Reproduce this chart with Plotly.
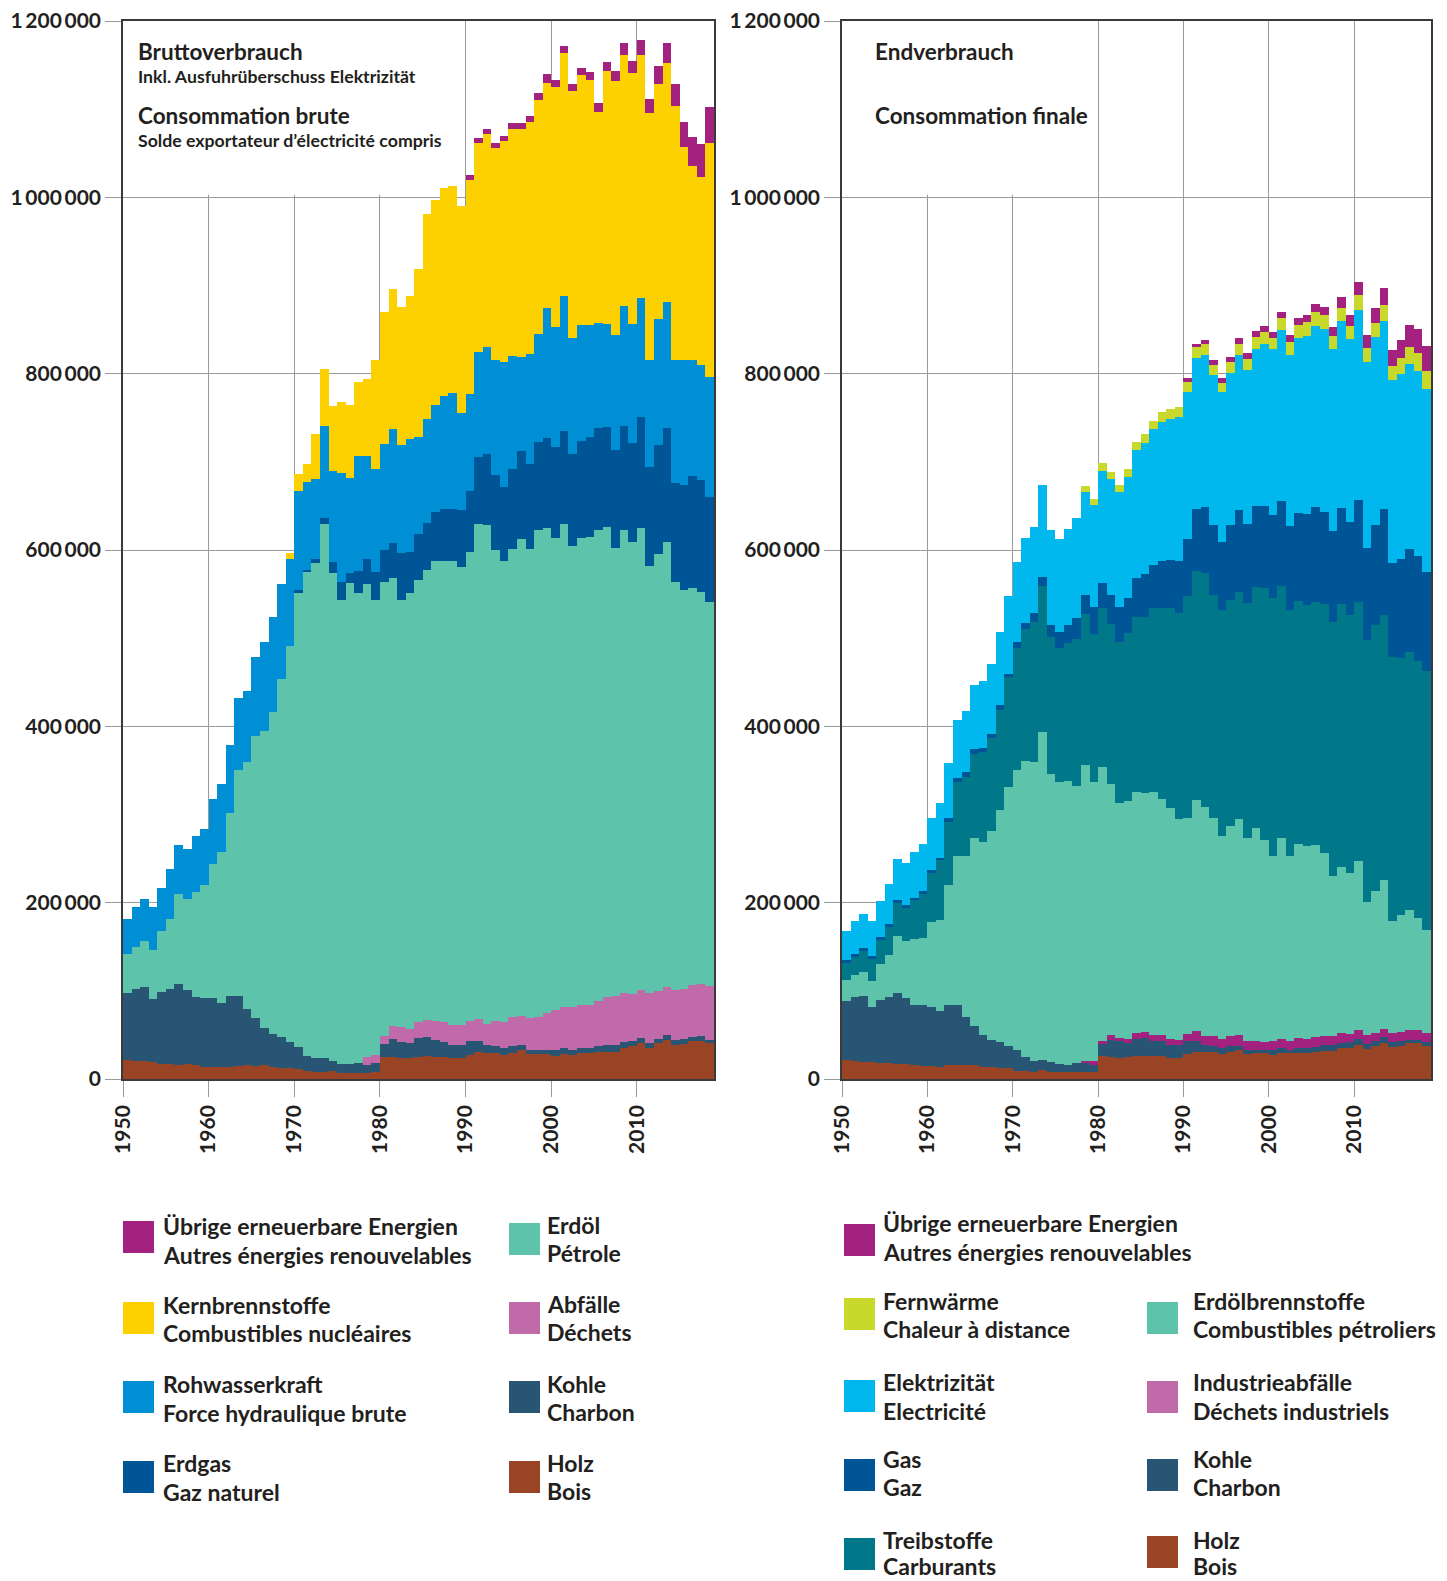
import plotly.graph_objects as go

# ---------------- data (TJ) ----------------
years = list(range(1950, 2019))
decade_ticks = [1950, 1960, 1970, 1980, 1990, 2000, 2010]
decade_labels = ["1950", "1960", "1970", "1980", "1990", "2000", "2010"]
y_ticks = [0, 200000, 400000, 600000, 800000, 1000000, 1200000]
y_labels = ["0", "200\u2009000", "400\u2009000", "600\u2009000", "800\u2009000", "1\u2009000\u2009000", "1\u2009200\u2009000"]

# Bruttoverbrauch / Consommation brute
holz_b = [21500,20800,20400,19300,17400,17400,16300,17400,15500,14000,
          14000,14000,14000,15000,15900,15000,16300,14000,12900,12900,
          11700,9500,8300,7900,9500,6800,6800,6800,6800,7900,
          25000,25000,23800,23800,25000,26000,25000,25000,23800,23800,
          27200,30600,29500,29500,27200,29500,32900,28400,28400,28400,
          26500,28400,27200,29500,29500,30600,30600,30600,35000,37400,
          40800,35500,40400,44200,38600,40000,43000,43000,41200]
kohle_b = [76000,80900,83900,71400,81300,84300,91400,83600,77500,78200,
           77900,72200,80000,79000,63900,54200,41900,37000,34400,29100,
           24600,16500,15500,15900,10900,10200,10200,11300,9100,10200,
           14700,20400,18200,17000,21900,21600,18800,17000,14800,14800,
           15800,12400,9100,7900,8000,7900,5700,4500,4500,4500,
           6400,6800,5700,5700,5700,6800,8000,8000,7000,5600,
           5700,5300,5000,5700,5600,5400,4600,5800,3000]
abfaelle_b = [0,0,0,0,0,0,0,0,0,0,
              0,0,0,0,0,0,0,0,0,0,
              0,0,0,0,0,0,0,0,9100,9100,
              9100,14600,17000,15900,17700,19300,22000,22600,22600,22600,
              22800,25000,23800,28400,29400,32900,32800,36300,37400,41900,
              45300,46400,48700,48700,48700,51100,54400,55500,55500,53400,
              54500,56700,54400,54400,56800,56600,59000,58900,61300]
erdoel_b = [44200,48000,52200,55300,69100,80300,102300,103000,119000,127800,
            151900,171600,208000,257000,280200,320400,336800,365700,406700,449000,
            515300,548700,561800,606200,553100,526000,545600,532900,537000,516500,
            515200,508600,484700,494900,501400,510800,522200,523400,526800,519800,
            532200,562000,565600,534200,523400,531200,541600,532300,552700,550200,
            535800,548400,523400,530100,531100,534500,533000,508500,525500,512600,
            524000,484500,496200,504700,463000,453000,450400,445000,435500]
erdgas_b = [0,0,0,0,0,0,0,0,0,0,
            0,0,0,0,0,0,0,0,0,0,
            2700,3000,4200,6700,13300,21100,11300,25600,28200,31700,
            36400,39700,52900,46100,52100,53300,55100,58900,58900,64400,
            69300,75800,81200,85400,83800,90700,99600,96400,99900,102400,
            103200,105300,104200,110000,113500,115700,113900,111200,118000,112700,
            126200,112500,123400,129700,112400,119100,127300,127100,119500]
wasser_b = [39300,45300,47500,49000,49200,56000,55000,57000,64000,63000,
            74200,77200,77000,81500,80500,89400,101000,107300,107000,99000,
            112200,99800,91200,104300,103200,122900,108100,130400,116800,116600,
            120200,129300,122800,128300,109900,118000,121700,128100,131100,109600,
            109700,118800,120800,129600,141200,127500,106000,124100,122100,146600,
            135400,152400,131300,131000,126500,118300,116100,130200,136000,135000,
            134300,121500,142300,142300,139600,141900,130700,130200,135500]
kern_b = [0,0,0,0,0,0,0,0,0,0,
          0,0,0,0,0,0,0,0,0,7000,
          20100,20500,51000,64000,73700,81000,83000,84000,87000,123000,
          149400,158100,156200,162000,191000,231700,231800,236000,234500,235000,
          243000,237000,241400,241000,250500,257800,258900,263000,265000,256000,
          272100,276000,280100,283700,278000,239800,287000,288000,284000,284300,
          275500,279600,266300,271700,288000,241000,220500,213000,266000]
uebrige_b = [0,0,0,0,0,0,0,0,0,0,
             0,0,0,0,0,0,0,0,0,0,
             0,0,0,0,0,0,0,0,0,0,
             0,0,0,0,0,0,0,0,0,0,
             5000,5400,6100,6000,6500,6500,6500,7000,8000,9500,
             8000,8300,8400,8300,9000,9800,10000,11000,13500,14000,
             17000,16400,20500,21900,25000,28000,32500,37000,40000]

# Endverbrauch / Consommation finale
holz_e = [21600,20100,19700,19000,18200,18200,17100,17100,15900,15200,
          14400,13300,15600,15600,15600,15600,13300,13300,12500,12500,
          9100,8700,8000,9900,8000,8000,8000,8000,8000,8000,
          25800,24700,23900,24700,25800,25800,25800,25800,23500,23500,
          28100,30400,30400,30400,28500,30400,32600,28500,29200,29200,
          27300,29200,29200,29600,29600,30400,31500,31500,34900,34900,
          38300,33800,37200,40600,36100,37600,40600,40600,37600]
kohle_e = [66400,72900,74400,63000,71400,75200,80400,75100,68000,68700,
           67200,63700,68300,68300,54200,44400,36800,30700,30000,25500,
           23900,16300,12900,11700,11400,8700,7600,10200,9800,7900,
           14400,19300,19000,15900,19700,20900,17100,17100,14800,14800,
           14800,12500,7900,6800,6400,6800,5400,4500,3400,3400,
           5300,5700,3800,5300,5300,5700,6800,6800,5700,6800,
           6900,6000,5700,6800,6000,5300,3400,3400,4100]
indabf_e = [0,0,0,0,0,0,0,0,0,0,
            0,0,0,0,0,0,0,0,0,0,
            0,0,0,0,0,0,0,0,3000,5000,
            2700,5700,3400,4600,6500,6400,6800,6800,6900,5700,
            8000,11400,10300,11400,10300,11400,11700,9900,10300,9100,
            10300,10300,9900,11400,10300,11300,10300,10300,11400,9200,
            10200,9900,9100,9100,9900,10200,11400,11400,10300]
oelbr_e = [24700,25000,27700,29600,40900,47400,64500,64200,75100,76200,
           96800,103600,135800,169200,183300,213600,218200,236800,263000,292900,
           317500,335500,339100,372400,327100,320700,322900,313900,335500,316500,
           310800,285000,266400,270200,274000,271800,276300,268300,261800,250500,
           244700,262600,259600,247000,229900,237900,244800,230000,241300,228900,
           210600,227700,209500,219700,218600,217500,208300,181400,189000,183300,
           191300,151400,161700,169700,127500,133200,136600,127500,117300]
treib_e = [19000,20100,23500,24600,26600,31100,38000,37100,43700,49900,
           55000,67600,71800,84300,89900,95300,102900,106300,113500,124500,
           137900,149900,158800,165000,154500,151000,155600,166600,170800,167000,
           180300,181100,183000,190100,197700,198800,208000,216000,227000,233800,
           252000,259200,265600,253200,256600,256600,257700,266800,273700,286100,
           291900,286100,279300,275900,273600,275900,281600,288000,297500,291800,
           294100,296400,300900,299800,298700,290700,291900,290700,293000]
gas_e = [3400,3500,3500,3800,4200,4100,3400,3500,3000,3300,
         4200,3000,4100,3800,5000,4900,4500,3800,5700,4500,
         6900,7200,9500,10300,13600,19000,20500,23900,21700,30700,
         28400,33000,39300,39900,44400,49000,48900,53500,54600,59200,
         64900,70600,75200,79700,77400,85400,93300,89900,92200,93400,
         94400,96800,95600,100200,103600,108200,104800,103600,109300,105900,
         116100,104800,113900,120700,107000,112800,117200,119600,112700]
elek_e = [32600,37400,38700,39000,40600,45600,46600,48500,51300,52700,
          58000,61500,62900,65600,69800,73600,75500,79300,81900,87700,
          91000,96100,97500,104700,108200,105100,109300,113800,117200,116500,
          127600,132000,130300,137300,145000,149100,154100,157800,159800,163900,
          167000,170800,171900,169600,169700,171900,175400,174200,177600,183300,
          187900,193500,193600,198100,201500,204900,207200,206100,211800,207200,
          215200,210600,212900,212900,207200,209400,209500,209500,207500]
fern_e = [0,0,0,0,0,0,0,0,0,0,
          0,0,0,0,0,0,0,0,0,0,
          0,0,0,0,0,0,0,0,6900,6800,
          9000,8000,8700,9500,9900,10200,9500,11400,11000,11000,
          11000,12500,12500,11400,10200,12500,12500,12500,14000,14000,
          12500,13700,14800,14800,15900,16300,15900,14800,14800,14800,
          17100,15900,15900,18200,15900,18300,19400,20400,20200]
uebrige_e = [0,0,0,0,0,0,0,0,0,0,
             0,0,0,0,0,0,0,0,0,0,
             0,0,0,0,0,0,0,0,0,0,
             0,0,0,0,0,0,0,0,0,0,
             4500,4100,4600,5700,5700,5700,6800,6800,6900,6500,
             6800,6800,7900,8000,7600,9100,9100,10200,12500,12500,
             14800,14800,17100,19300,18300,20500,25000,27400,28400]

# ---------------- styles ----------------
C_UEBRIG = "#A3217F"
C_KERN = "#FDD000"
C_WASSER = "#008FD5"
C_GAS = "#005596"
C_OEL = "#5DC3AB"
C_ABF = "#C06AAA"
C_KOHLE = "#285574"
C_HOLZ = "#994525"
C_FERN = "#C8D92B"
C_ELEK = "#00B8EE"
C_TREIB = "#00788A"
TXT = "#231F20"
GRID = "#9a9a9a"
FONT = "Lato"

W, H = 1447, 1581
T, B = 21, 502


def px(x):
    return x / W


def py(y):
    return (H - B - y) / (H - T - B)


fig = go.Figure()

left = [("Holz", holz_b, C_HOLZ), ("Kohle", kohle_b, C_KOHLE), ("Abfälle", abfaelle_b, C_ABF),
        ("Erdöl", erdoel_b, C_OEL), ("Erdgas", erdgas_b, C_GAS), ("Rohwasserkraft", wasser_b, C_WASSER),
        ("Kernbrennstoffe", kern_b, C_KERN), ("Übrige erneuerbare Energien", uebrige_b, C_UEBRIG)]
right = [("Holz", holz_e, C_HOLZ), ("Kohle", kohle_e, C_KOHLE), ("Industrieabfälle", indabf_e, C_UEBRIG),
         ("Erdölbrennstoffe", oelbr_e, C_OEL), ("Treibstoffe", treib_e, C_TREIB), ("Gas", gas_e, C_GAS),
         ("Elektrizität", elek_e, C_ELEK), ("Fernwärme", fern_e, C_FERN),
         ("Übrige erneuerbare Energien", uebrige_e, C_UEBRIG)]

for name, vals, col in left:
    fig.add_trace(go.Bar(x=years, y=vals, width=1, offset=0, name=name, showlegend=False,
                         marker=dict(color=col, line=dict(width=0)), xaxis="x", yaxis="y"))
for name, vals, col in right:
    fig.add_trace(go.Bar(x=years, y=vals, width=1, offset=0, name=name, showlegend=False,
                         marker=dict(color=col, line=dict(width=0)), xaxis="x2", yaxis="y2"))

xa = dict(range=[1950, 2019], tickvals=decade_ticks, ticktext=decade_labels, tickangle=-90,
          ticks="outside", ticklen=16, tickcolor=GRID, tickwidth=1,
          showgrid=True, gridcolor=GRID, gridwidth=1, zeroline=False,
          showline=True, linecolor="#3a3a3a", linewidth=1.5, mirror=True, automargin=False,
          tickfont=dict(family=FONT, size=21, color=TXT, weight="bold"), fixedrange=True)
ya = dict(range=[0, 1200000], tickvals=y_ticks, ticktext=y_labels,
          ticks="outside", ticklen=16, tickcolor=GRID, tickwidth=1,
          showgrid=True, gridcolor=GRID, gridwidth=1, zeroline=False,
          showline=True, linecolor="#3a3a3a", linewidth=1.5, mirror=True, automargin=False,
          tickfont=dict(family=FONT, size=21, color=TXT, weight="bold"), fixedrange=True)

fig.update_layout(
    width=W, height=H,
    margin=dict(l=0, r=0, t=T, b=B, pad=0, autoexpand=False),
    paper_bgcolor="white", plot_bgcolor="white",
    barmode="stack", bargap=0,
    font=dict(family=FONT, color=TXT),
    xaxis=dict(xa, domain=[px(123), px(714)], anchor="y"),
    yaxis=dict(ya, domain=[0, 1], anchor="x"),
    xaxis2=dict(xa, domain=[px(842), px(1431)], anchor="y2"),
    yaxis2=dict(ya, domain=[0, 1], anchor="x2"),
)

# white boxes behind the chart titles (hide grid lines there)
fig.add_shape(type="rect", xref="x", yref="y", x0=1950, x1=1989.6, y0=1003000, y1=1200000,
              fillcolor="white", line=dict(width=0), layer="between")
fig.add_shape(type="rect", xref="x2", yref="y2", x0=1950, x1=1979.6, y0=1003000, y1=1200000,
              fillcolor="white", line=dict(width=0), layer="between")

annots = []


def txt(x, y, s, size, weight="bold"):
    annots.append(dict(x=px(x), y=py(y), xref="paper", yref="paper", text=s, showarrow=False,
                       xanchor="left", yanchor="middle",
                       font=dict(family=FONT, size=size, color=TXT, weight=weight)))


# chart titles
txt(136, 51, "Bruttoverbrauch", 22.5)
txt(136, 76, "Inkl. Ausfuhrüberschuss Elektrizität", 17.7)
txt(136, 116, "Consommation brute", 22.5)
txt(136, 141, "Solde exportateur d’électricité compris", 17.7)
txt(873, 51, "Endverbrauch", 22.5)
txt(873, 116, "Consommation finale", 22.5)

# custom legends
legend_items = [
    # (swatch x0, text x, swatch y0, line1 y, line2 y, colour, line1, line2)
    (123, 161, 1221, 1226, 1255, C_UEBRIG, "Übrige erneuerbare Energien", "Autres énergies renouvelables"),
    (123, 161, 1302, 1305, 1333, C_KERN, "Kernbrennstoffe", "Combustibles nucléaires"),
    (123, 161, 1381, 1384, 1413, C_WASSER, "Rohwasserkraft", "Force hydraulique brute"),
    (123, 161, 1461, 1463, 1492, C_GAS, "Erdgas", "Gaz naturel"),
    (509, 545, 1223, 1225, 1253, C_OEL, "Erdöl", "Pétrole"),
    (509, 545, 1302, 1304, 1332, C_ABF, "Abfälle", "Déchets"),
    (509, 545, 1381, 1384, 1412, C_KOHLE, "Kohle", "Charbon"),
    (509, 545, 1461, 1463, 1491, C_HOLZ, "Holz", "Bois"),
    (844, 881, 1224, 1223, 1252, C_UEBRIG, "Übrige erneuerbare Energien", "Autres énergies renouvelables"),
    (844, 881, 1298, 1301, 1329, C_FERN, "Fernwärme", "Chaleur à distance"),
    (844, 881, 1380, 1382, 1411, C_ELEK, "Elektrizität", "Electricité"),
    (844, 881, 1459, 1459, 1487, C_GAS, "Gas", "Gaz"),
    (844, 881, 1538, 1540, 1566, C_TREIB, "Treibstoffe", "Carburants"),
    (1147, 1191, 1302, 1301, 1329, C_OEL, "Erdölbrennstoffe", "Combustibles pétroliers"),
    (1147, 1191, 1381, 1382, 1411, C_ABF, "Industrieabfälle", "Déchets industriels"),
    (1147, 1191, 1459, 1459, 1487, C_KOHLE, "Kohle", "Charbon"),
    (1147, 1191, 1536, 1540, 1566, C_HOLZ, "Holz", "Bois"),
]
for sx, tx, sy, l1, l2, col, s1, s2 in legend_items:
    fig.add_shape(type="rect", xref="paper", yref="paper", x0=px(sx), x1=px(sx + 31),
                  y0=py(sy + 32), y1=py(sy), fillcolor=col, line=dict(width=0), layer="above")
    txt(tx, l1, s1, 23)
    txt(tx, l2, s2, 23)

fig.update_layout(annotations=annots)

fig.write_html("out.html", config={"displayModeBar": False},
               post_script="document.body.style.margin='0';document.body.style.overflow='hidden';")
